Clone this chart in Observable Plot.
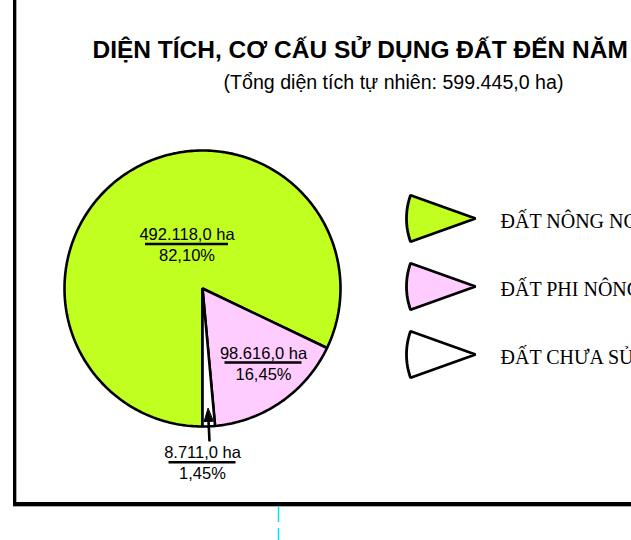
<!DOCTYPE html>
<html>
<head>
<meta charset="utf-8">
<script src="https://cdn.jsdelivr.net/npm/d3@7"></script>
<script src="https://cdn.jsdelivr.net/npm/@observablehq/plot@0.6"></script>
<style>
  html, body { margin: 0; padding: 0; background: #fff; overflow: hidden; }
  #wrap { position: relative; width: 631px; height: 540px; overflow: hidden; background: #fff; }
  #wrap svg.plot { position: absolute; left: 0; top: 0; }
  .frame-left { position: absolute; left: 12.5px; top: 0; width: 3.7px; height: 505px; background: #000; box-shadow: 1px 0 0 #aaa; }
  .frame-bottom { position: absolute; left: 12.5px; top: 502px; width: 619px; height: 3.5px; background: #000; box-shadow: 0 1px 0 #aaa; }
  #deco { position: absolute; left: 0; top: 0; }
</style>
</head>
<body>
<div id="wrap">
  <div class="frame-left"></div>
  <div class="frame-bottom"></div>
</div>
<script>
// ---------- DATA ----------
const categories = ["ĐẤT NÔNG NGHIỆP", "ĐẤT PHI NÔNG NGHIỆP", "ĐẤT CHƯA SỬ DỤNG"];
const areas = [492118.0, 98616.0, 8711.0];          // ha
const shares = [82.10, 16.45, 1.45];                 // %
const colors = ["#c0ff20", "#ffccff", "#ffffff"];
const title = "DIỆN TÍCH, CƠ CẤU SỬ DỤNG ĐẤT ĐẾN NĂM";
const subtitle = "(Tổng diện tích tự nhiên: 599.445,0 ha)";

// ---------- LAYOUT ----------
const W = 631, H = 540;
const cx = 202, cy = 288, R = 138;           // pie centre & radius (px)
const u = px => px / R;                      // px length -> unit length
const labelOffsets = [[-15.5, -44.5], [61, 74], [0, 173.7]]; // label anchor (underline centre) px from centre
const underlineHalf = [41.5, 38.5, 33.5];

const vn = d3.formatLocale({decimal: ",", thousands: ".", grouping: [3], currency: ["", ""]});
const fmtArea = v => vn.format(",.1f")(v) + " ha";
const fmtPct = v => vn.format(".2f")(v) + "%";

// pie geometry (unit circle, y up), clockwise from 6 o'clock
const arcs = d3.pie().sort(null).startAngle(Math.PI).endAngle(3 * Math.PI)(areas);
const slices = arcs.map((a, i) => {
  const n = Math.max(3, Math.ceil((a.endAngle - a.startAngle) / (Math.PI / 180)));
  const pts = [{x: 0, y: 0}];
  for (let j = 0; j <= n; j++) {
    const t = a.startAngle + (a.endAngle - a.startAngle) * j / n;
    pts.push({x: Math.sin(t), y: Math.cos(t)});
  }
  return pts;
});

const labels = categories.map((c, i) => ({
  x: u(labelOffsets[i][0]), y: -u(labelOffsets[i][1]), hw: u(underlineHalf[i]),
  area: areas[i], share: shares[i]
}));

// arrow into the small slice
const small = arcs[2];
const mid = (small.startAngle + small.endAngle) / 2;
const tip = {x: 0.87 * Math.sin(mid), y: 0.87 * Math.cos(mid)};
const tail = {x: 1.11 * Math.sin(mid), y: 1.11 * Math.cos(mid)};
const dirLen = Math.hypot(tip.x - tail.x, tip.y - tail.y);
const dir = {x: (tip.x - tail.x) / dirLen, y: (tip.y - tail.y) / dirLen};
const headL = u(13), headW = u(4.5);
const headBase = {x: tip.x - dir.x * headL, y: tip.y - dir.y * headL};
const head = [
  tip,
  {x: headBase.x - dir.y * headW, y: headBase.y + dir.x * headW},
  {x: headBase.x + dir.y * headW, y: headBase.y - dir.x * headW}
];

// legend wedges
const legendApexX = 475, legendApexY0 = 218, legendStep = 68, legendR = 69, legendHalf = 19.7;
const legendRows = categories.map((c, i) => {
  const ax = u(legendApexX - cx), ay = u(cy - (legendApexY0 + legendStep * i));
  const pts = [{x: ax, y: ay}];
  for (let j = 0; j <= 20; j++) {
    const t = (180 - legendHalf + 2 * legendHalf * j / 20) * Math.PI / 180;
    pts.push({x: ax + u(legendR) * Math.cos(t), y: ay + u(legendR) * Math.sin(t)});
  }
  return {name: c, color: colors[i], ax, ay, pts};
});
const legendTextX = u(500 - cx);

const plot = Plot.plot({
  width: W, height: H, margin: 0,
  x: {domain: [-1, 1], range: [cx - R, cx + R], axis: null},
  y: {domain: [-1, 1], range: [cy + R, cy - R], axis: null},
  style: {fontFamily: "'Liberation Sans', Arial, sans-serif", background: "transparent", color: "#000"},
  marks: [
    ...slices.map((pts, i) => Plot.line(pts, {x: "x", y: "y", fill: colors[i], stroke: "#000", strokeWidth: 2.6, curve: "linear-closed", strokeLinejoin: "miter"})),
    Plot.ruleY(labels, {y: "y", x1: d => d.x - d.hw, x2: d => d.x + d.hw, stroke: "#000", strokeWidth: 2.4}),
    Plot.text(labels, {x: "x", y: "y", text: d => fmtArea(d.area), dy: -4, lineAnchor: "bottom", fontSize: 16.5, fill: "#000"}),
    Plot.text(labels, {x: "x", y: "y", text: d => fmtPct(d.share), dy: 17, lineAnchor: "bottom", fontSize: 16.5, fill: "#000"}),
    Plot.link([{tail, headBase}], {x1: d => d.tail.x, y1: d => d.tail.y, x2: d => d.headBase.x, y2: d => d.headBase.y, stroke: "#000", strokeWidth: 2.6}),
    Plot.line(head, {x: "x", y: "y", fill: "#000", stroke: "#000", strokeWidth: 1, curve: "linear-closed"}),
    ...legendRows.map(r => Plot.line(r.pts, {x: "x", y: "y", fill: r.color, stroke: "#000", strokeWidth: 2.8, curve: "linear-closed", strokeLinejoin: "miter"})),
    Plot.text(legendRows, {x: () => legendTextX, y: "ay", text: "name", textAnchor: "start", lineAnchor: "bottom", dy: 9, fontSize: 20, fontFamily: "'Liberation Serif', 'Times New Roman', serif", fill: "#000"}),
    Plot.text([title], {text: d => d, frameAnchor: "top-left", dx: 92, dy: 57, textAnchor: "start", lineAnchor: "bottom", fontSize: 24.5, fontWeight: "bold", fill: "#000"}),
    Plot.text([subtitle], {text: d => d, frameAnchor: "top-left", dx: 223, dy: 88, textAnchor: "start", lineAnchor: "bottom", fontSize: 19.6, fill: "#000"})
  ]
});
document.getElementById("wrap").appendChild(plot);

// decorative cyan dashed guide below the frame
const deco = d3.select("#wrap").append("svg").attr("id", "deco").attr("width", W).attr("height", H);
deco.append("line").attr("x1", 278.5).attr("x2", 278.5).attr("y1", 506).attr("y2", H)
  .attr("stroke", "#00e5f5").attr("stroke-width", 1.5).attr("stroke-dasharray", "16 6");
</script>
</body>
</html>
